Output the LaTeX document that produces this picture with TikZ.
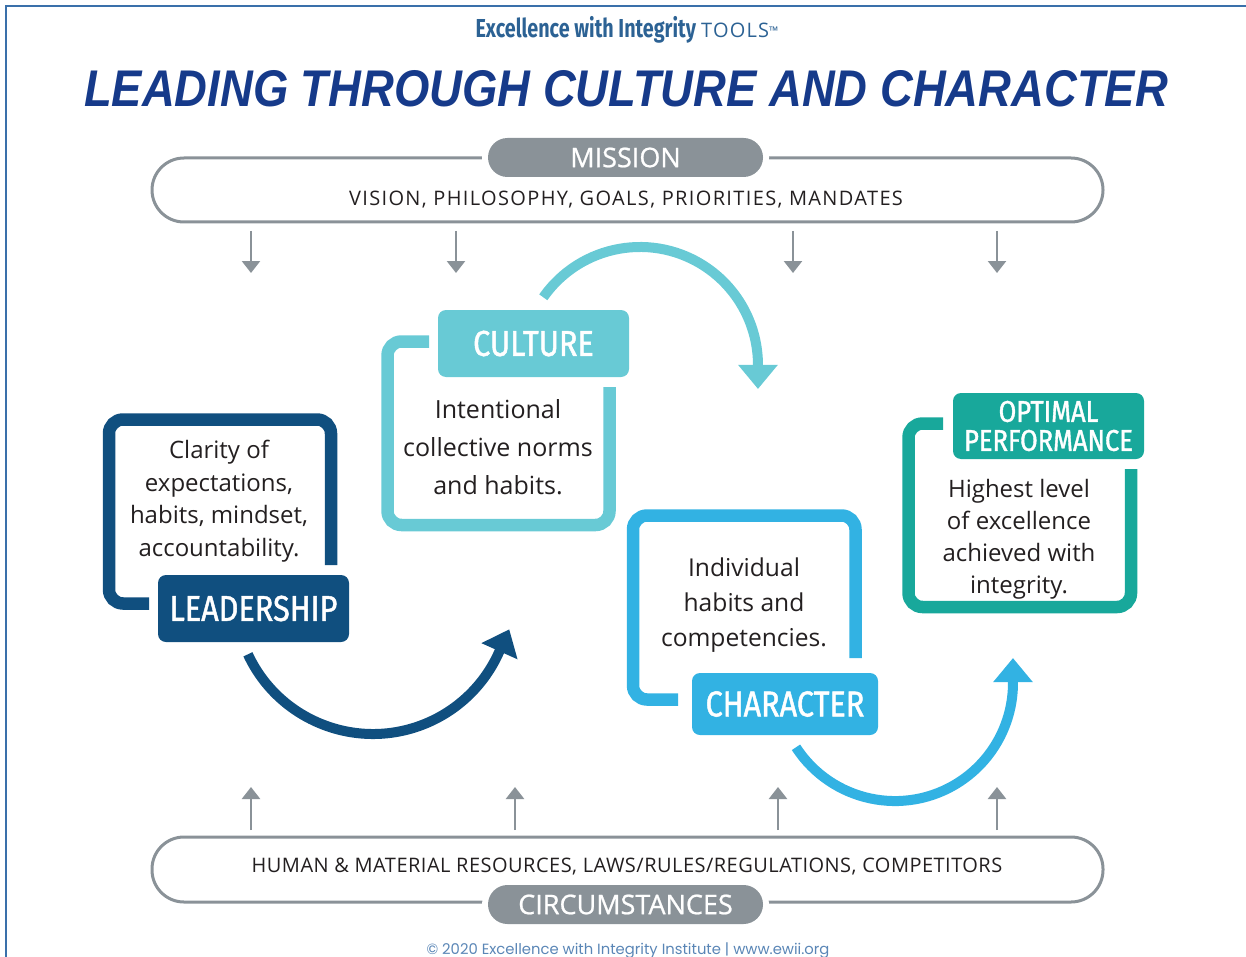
\documentclass[tikz,border=0pt]{standalone}
\usepackage{fontspec}
\setmainfont{Open Sans}
\newfontfamily\tagfont[FakeStretch=0.85, FakeBold=1.3]{Fira Sans}
\newfontfamily\pillfont[FakeBold=0.8]{Open Sans}
\newfontfamily\headfont[FakeStretch=0.76]{Fira Sans}
\newfontfamily\titlefont[FakeStretch=0.88]{Liberation Sans}
\newfontfamily\footfont{Poppins}
\usetikzlibrary{arrows.meta}
\definecolor{borderblue}{RGB}{58,112,170}
\definecolor{headblue}{RGB}{44,98,148}
\definecolor{titleblue}{RGB}{22,58,138}
\definecolor{bargray}{RGB}{138,146,152}
\definecolor{inkgray}{RGB}{35,31,32}
\definecolor{leadblue}{RGB}{16,79,127}
\definecolor{cultteal}{RGB}{104,202,213}
\definecolor{charblue}{RGB}{50,178,227}
\definecolor{optgreen}{RGB}{24,168,155}
\definecolor{footblue}{RGB}{90,134,182}

\begin{document}
\begin{tikzpicture}[
  x=0.5pt, y=-0.5pt,
  tag/.style={rounded corners=4pt, fill=#1, text=white, font=\tagfont\fontsize{18}{20}\selectfont, minimum width=95.5pt, minimum height=33.5pt, inner sep=0pt, align=center},
  boxframe/.style={draw=#1, line width=6.25pt, rounded corners=7pt},
  body/.style={text=inkgray, align=center, inner sep=0pt},
  pill/.style={rounded corners=9.75pt, fill=bargray, text=white, minimum width=137.5pt, minimum height=19.5pt, inner sep=0pt, font=\pillfont\fontsize{13.5}{15}\selectfont, preaction={draw=white, line width=6pt}},
  bar/.style={draw=bargray, line width=1.5pt, rounded corners=16pt},
  caps/.style={text=inkgray, inner sep=0pt, font=\fontsize{10}{12}\selectfont\addfontfeatures{LetterSpace=#1}},
  feed/.style={draw=bargray, line width=1.25pt, -{Triangle[width=9pt, length=6pt]}},
  swing/.style={draw=#1, line width=5pt, -{Triangle[width=19pt, length=12pt]}},
]
  \useasboundingbox (0,0) rectangle (1246,957);
  \draw[borderblue, line width=0.75pt] (6,957) -- (6,6) -- (1246,6);

  \node[text=headblue] (brand) at (627,30) {{\headfont\bfseries\fontsize{13}{15}\selectfont Excellence with Integrity} {\fontsize{10}{12}\selectfont\addfontfeatures{LetterSpace=6}TOOLS}{\fontsize{6}{6}\selectfont\raisebox{1pt}{™}}};
  \node[text=titleblue, font=\titlefont\bfseries\itshape\fontsize{25.8}{30}\selectfont] (title) at (626,89) {LEADING THROUGH CULTURE AND CHARACTER};

  \draw[bar] (152,158) rectangle (1103,222);
  \node[pill] (mission) at (625.5,157.5) {MISSION};
  \node[caps=6.8] (aims) at (626,200) {VISION, PHILOSOPHY, GOALS, PRIORITIES, MANDATES};
  \foreach \xx in {251,456,793,997}
    \draw[feed] (\xx,231) -- (\xx,273);

  \draw[bar] (152,837) rectangle (1103,902);
  \node[caps=2.4] (means) at (627,867) {HUMAN \& MATERIAL RESOURCES, LAWS/RULES/REGULATIONS, COMPETITORS};
  \node[pill] (circum) at (625.5,904.5) {CIRCUMSTANCES};
  \foreach \xx in {251,515,778,997}
    \draw[feed] (\xx,830) -- (\xx,787);

  \draw[boxframe=leadblue] (331,565) -- (331,419.5) -- (109,419.5) -- (109,603.5) -- (149,603.5);
  \draw[boxframe=cultteal] (429,341.5) -- (387.5,341.5) -- (387.5,525) -- (609.5,525) -- (609.5,387);
  \draw[boxframe=charblue] (855.5,658) -- (855.5,515.5) -- (633,515.5) -- (633,699.5) -- (678,699.5);
  \draw[boxframe=optgreen] (943,423.5) -- (908.5,423.5) -- (908.5,607) -- (1131,607) -- (1131,469);

  \node[tag=leadblue] (lead) at (253.5,608.5) {LEADERSHIP};
  \node[tag=cultteal] (cult) at (533.5,343.5) {CULTURE};
  \node[tag=charblue, minimum width=93pt, minimum height=31pt] (char) at (785,704) {CHARACTER};
  \node[tag=optgreen, minimum height=33pt, font=\tagfont\fontsize{15}{14.5}\selectfont] (opt) at (1048.5,426) {OPTIMAL\\PERFORMANCE};

  \node[body, font=\fontsize{12}{16.25}\selectfont] (leadtext) at (219,501) {Clarity of\\expectations,\\habits, mindset,\\accountability.};
  \node[body, font=\fontsize{12.5}{19}\selectfont] (culttext) at (498,447) {Intentional\\collective norms\\and habits.};
  \node[body, font=\fontsize{12.3}{17.5}\selectfont] (chartext) at (744,605) {Individual\\habits and\\competencies.};
  \node[body, font=\fontsize{12}{16}\selectfont] (opttext) at (1019,539) {Highest level\\of excellence\\achieved with\\integrity.};

  \coordinate (leadarc) at (247.9,654.3);
  \coordinate (cultarc) at (543.3,297.3);
  \coordinate (chararc) at (796,747.3);
  \draw[swing=leadblue] (leadarc) arc[start angle=155, end angle=24, radius=138] -- ++(10.2,-22.8);
  \draw[swing=cultteal] (cultarc) arc[start angle=-145, end angle=0, radius=118] -- ++(0,24);
  \draw[swing=charblue] (chararc) arc[start angle=147, end angle=0, radius=118] -- ++(0,-25);

  \node[text=footblue, font=\footfont\fontsize{7.4}{9}\selectfont] (foot) at (628,951) {© 2020 Excellence with Integrity Institute | www.ewii.org};
\end{tikzpicture}
\end{document}
